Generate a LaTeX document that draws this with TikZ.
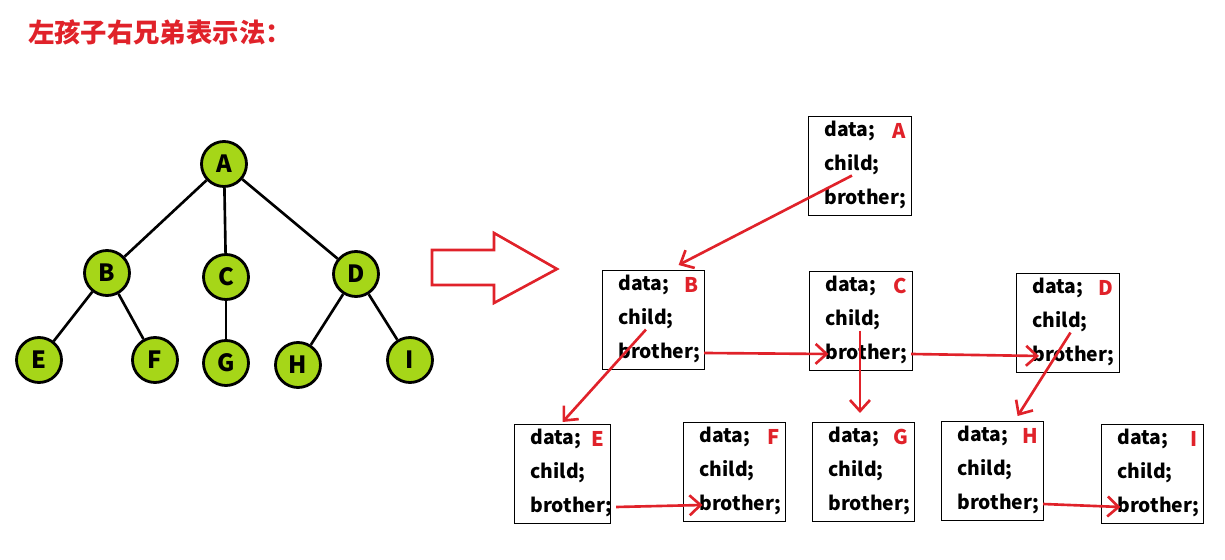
\documentclass[tikz,border=0pt]{standalone}
\usepackage{fontspec}
\setmainfont{Noto Sans CJK SC}
\usetikzlibrary{arrows.meta}
\usetikzlibrary{positioning}

\definecolor{treegreen}{RGB}{166,214,24}
\definecolor{linkred}{RGB}{224,34,42}

\begin{document}
\begin{tikzpicture}[
    x=0.02cm, y=-0.02cm,
    treenode/.style={circle, draw, line width=1.6pt, fill=treegreen, minimum size=0.9cm, inner sep=0pt, font=\fontsize{13.5}{13.5}\selectfont\bfseries},
    edge/.style={line width=1.5pt},
    fieldbox/.style={rectangle, draw, line width=0.7pt, minimum height=1.98cm, anchor=north west},
    fieldtext/.style={anchor=west, inner sep=0pt, font=\fontsize{11}{11}\selectfont\bfseries},
    tag/.style={anchor=east, inner sep=0pt, text=linkred, font=\fontsize{11.5}{11.5}\selectfont\bfseries},
    link/.style={-{Straight Barb[length=0.22cm, width=0.4cm]}, linkred, line width=1.5pt},
    bigarrow/.style={draw=linkred, line width=1.5pt, line join=miter},
    every node/.style={text=black}
    ]

    \useasboundingbox (0,0) rectangle (1225,560);

    % Title
    \node[anchor=west, text=linkred, font=\fontsize{15}{15}\selectfont\bfseries] (title) at (22,32) {左孩子右兄弟表示法：};

    % Tree
    \node[treenode] (tA) at (224,164) {A};
    \node[treenode] (tB) at (107,273) {B};
    \node[treenode] (tC) at (226,277) {C};
    \node[treenode] (tD) at (356,274) {D};
    \node[treenode] (tE) at (39,360) {E};
    \node[treenode] (tF) at (155,360) {F};
    \node[treenode] (tG) at (226,363) {G};
    \node[treenode] (tH) at (298,365) {H};
    \node[treenode] (tI) at (410,360) {I};

    \draw[edge] (tA) -- (tB);
    \draw[edge] (tA) -- (tC);
    \draw[edge] (tA) -- (tD);
    \draw[edge] (tB) -- (tE);
    \draw[edge] (tB) -- (tF);
    \draw[edge] (tC) -- (tG);
    \draw[edge] (tD) -- (tH);
    \draw[edge] (tD) -- (tI);

    % Hollow arrow
    \draw[bigarrow] (432,250) -- (494,250) -- (494,233) -- (557,269) -- (494,303)
        -- (494,285) -- (432,285) -- cycle;

    % Boxes
    \foreach \n/\x/\y/\w in {A/808/116/103, B/602/270/102, C/809/271/103, D/1016/273/103,
                             E/514/424/96, F/683/422/102, G/812/422/102, H/941/421/102, I/1101/424/102} {
        \node[fieldbox, minimum width=\w*0.02cm] (\n) at (\x,\y) {};
        \node[fieldtext] (\n-data) at (\x+16,\y+15) {data;};
        \node[fieldtext] (\n-child) at (\x+16,\y+49) {child;};
        \node[fieldtext] (\n-brother) at (\x+16,\y+83) {brother;};
        \node[tag] (\n-tag) at (\x+\w-5,\y+15) {\n};
    }

    % Links
    \draw[link] (A-child.south) -- ([xshift=0.5cm, yshift=0.1cm]B.north);
    \draw[link] (B-child.south) -- ([yshift=0.04cm]E.north);
    \draw[link] ([xshift=4pt]C-child.south) -- ([xshift=4pt, yshift=0.18cm]C-child.south |- G.north);
    \draw[link] ([xshift=6pt]D-child.south) -- ([xshift=0.5cm, yshift=0.1cm]H.north);
    \draw[link] ([xshift=2pt]B-brother.east) -- ([xshift=2pt]C-brother.west);
    \draw[link] ([xshift=2pt]C-brother.east) -- ([xshift=4pt]D-brother.west);
    \draw[link] ([xshift=2pt]E-brother.east) -- ([xshift=2pt]F-brother.west);
    \draw[link] ([xshift=2pt]H-brother.east) -- ([xshift=2pt]I-brother.west);

\end{tikzpicture}
\end{document}
